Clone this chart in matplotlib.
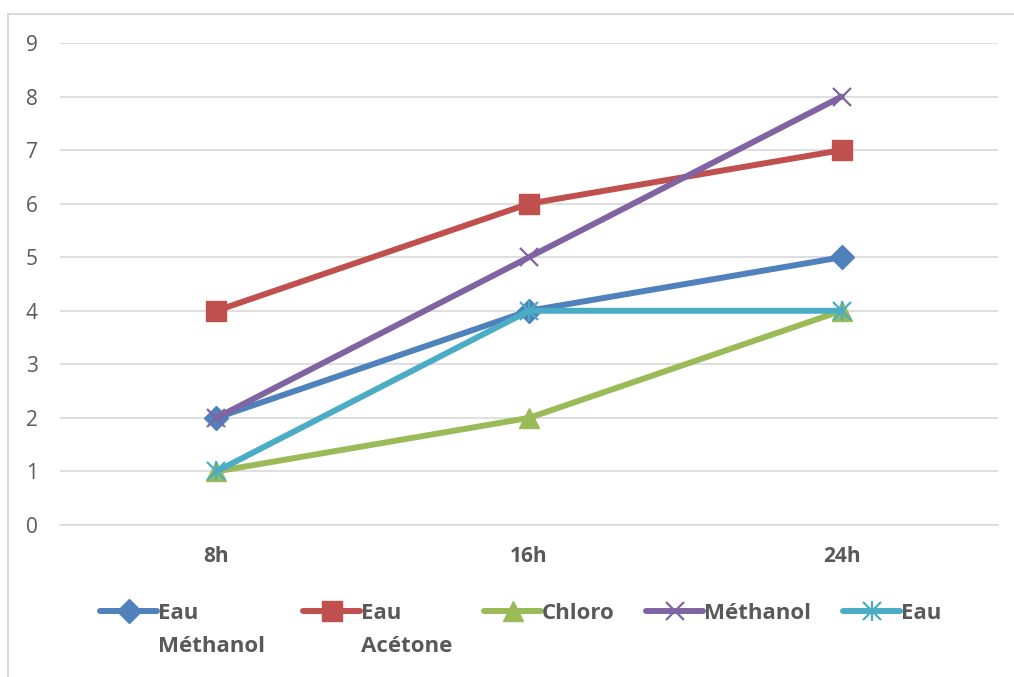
import matplotlib.pyplot as plt
from matplotlib.lines import Line2D
from matplotlib.patches import Rectangle

plt.rcParams['font.family'] = ['Open Sans', 'DejaVu Sans']

# data
hours = ['8h', '16h', '24h']
eau_methanol = [2, 4, 5]
eau_acetone = [4, 6, 7]
chloro = [1, 2, 4]
methanol = [2, 5, 8]
eau = [1, 4, 4]
labels = ['Eau\nMéthanol', 'Eau\nAcétone', 'Chloro', 'Méthanol', 'Eau']

colors = ['#4F81BD', '#C0504D', '#9BBB59', '#8064A2', '#4BACC6']
text_color = '#595959'
grid_color = '#D9D9D9'

fig = plt.figure(figsize=(10.14, 6.77), dpi=100)
ax = fig.add_axes([60 / 1014, 1 - 525 / 677, 938 / 1014, 482 / 677])

x = range(len(hours))
series = [eau_methanol, eau_acetone, chloro, methanol, eau]
styles = [dict(marker='D', markersize=12),
          dict(marker='s', markersize=14),
          dict(marker='^', markersize=14),
          dict(marker='x', markersize=13, markeredgewidth=1.6),
          dict(marker='x', markersize=13, markeredgewidth=1.6)]

for vals, c, st in zip(series, colors, styles):
    ax.plot(x, vals, color=c, linewidth=4.3, solid_capstyle='round', **st)
# star marker for "Eau": x plus vertical bar
ax.plot(x, eau, linestyle='none', marker='|', markersize=15,
        markeredgewidth=1.6, color=colors[4])

ax.set_xlim(-0.5, 2.5)
ax.set_ylim(0, 9)
ax.set_yticks(range(0, 10))
ax.set_xticks(list(x))
ax.set_xticklabels(hours, fontweight='bold')
ax.grid(axis='y', color=grid_color, linewidth=1.2)
ax.set_axisbelow(True)
for s in ['top', 'right', 'left']:
    ax.spines[s].set_visible(False)
ax.spines['bottom'].set_color(grid_color)
ax.spines['bottom'].set_linewidth(1.2)
ax.tick_params(axis='both', length=0, colors=text_color, labelsize=15)
ax.tick_params(axis='y', pad=16)
ax.tick_params(axis='x', pad=15)

# chart border
fig.patches.append(Rectangle((8 / 1014, -0.1), 1.2, 1.1 - 13.5 / 677,
                             transform=fig.transFigure, fill=False,
                             edgecolor=grid_color, linewidth=1.5))

# legend, laid out like Excel (handle aligned with first text line)
leg_x = [100, 303, 484, 646, 843]
leg_y = 1 - 611 / 677
for i, (lab, c, st) in enumerate(zip(labels, colors, styles)):
    x0 = leg_x[i] / 1014
    x1 = (leg_x[i] + 57) / 1014
    fig.add_artist(Line2D([x0, x1], [leg_y, leg_y], color=c, linewidth=4.3,
                          solid_capstyle='round'))
    fig.add_artist(Line2D([(x0 + x1) / 2], [leg_y], color=c, linestyle='none', **st))
    if i == 4:
        fig.add_artist(Line2D([(x0 + x1) / 2], [leg_y], color=c, linestyle='none',
                              marker='|', markersize=15, markeredgewidth=1.6))
    for j, part in enumerate(lab.split('\n')):
        fig.text((leg_x[i] + 58) / 1014, 1 - (619 + 33 * j) / 677, part,
                 color=text_color, fontsize=16, fontweight='bold',
                 va='baseline', ha='left')

fig.savefig('out.png', dpi=100)
